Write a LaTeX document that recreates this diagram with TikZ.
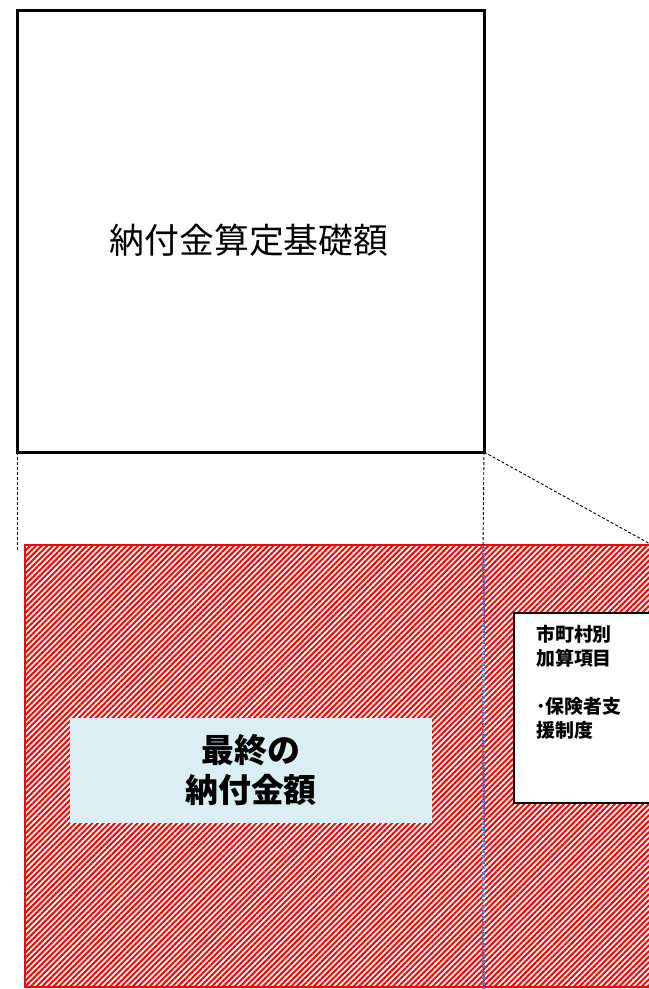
\documentclass[tikz,border=0pt]{standalone}
\usepackage{fontspec}
\newfontfamily\cjk{Noto Sans CJK JP}
\usetikzlibrary{patterns.meta}
\definecolor{hatchred}{RGB}{255,0,0}
\definecolor{lightblue}{RGB}{218,238,243}
\definecolor{dotblue}{RGB}{80,130,200}
\tikzset{
  topbox/.style={draw=black, line width=3bp, fill=white, inner sep=0pt},
  guide/.style={draw=black, line width=0.9bp, dash pattern=on 3bp off 2bp},
  hatchbox/.style={draw=hatchred, line width=2bp, pattern={Lines[angle=45,distance=4bp,line width=2bp]}, pattern color=hatchred},
  sidebox/.style={draw=black, line width=2bp, fill=white},
  resultbox/.style={fill=lightblue, draw=none},
  bluedots/.style={draw=dotblue, line width=3bp, dash pattern=on 3bp off 2.5bp},
}
\begin{document}
\begin{tikzpicture}[x=1bp,y=-1bp]
\useasboundingbox (0,0) rectangle (649,989);
\clip (0,0) rectangle (649,989);
% top box
\draw[topbox] (17,10) rectangle (484,452);
\node[font=\cjk\fontsize{35}{40}\selectfont] (base) at (249,240) {納付金算定基礎額};
\coordinate (tl) at (17,452);
\coordinate (tr) at (484,452);
% hatched rectangle
\draw[hatchbox] (25,545) rectangle (670,987);
\coordinate (bl) at (17,551);
\coordinate (bm) at (483,547);
\coordinate (bmb) at (483,989);
\coordinate (br) at (652,545);
% guides
\draw[guide] (tl) -- (bl);
\draw[guide] (tr) -- (bm);
\draw[guide] (tr) -- (br);
\draw[bluedots] (bm) -- (bmb);
% side box
\draw[sidebox] (514,613) rectangle (670,803);
\node[anchor=north west, align=left, inner sep=0pt, font=\cjk\bfseries\fontsize{19}{24}\selectfont] (side) at (536,625) {市町村別\\加算項目\\[24bp]･保険者支\\援制度};
% result box
\fill[resultbox] (70,718) rectangle (432,823);
\node[align=center, font=\cjk\bfseries\fontsize{33}{40}\selectfont] (result) at (251,770) {最終の\\納付金額};
\end{tikzpicture}
\end{document}
